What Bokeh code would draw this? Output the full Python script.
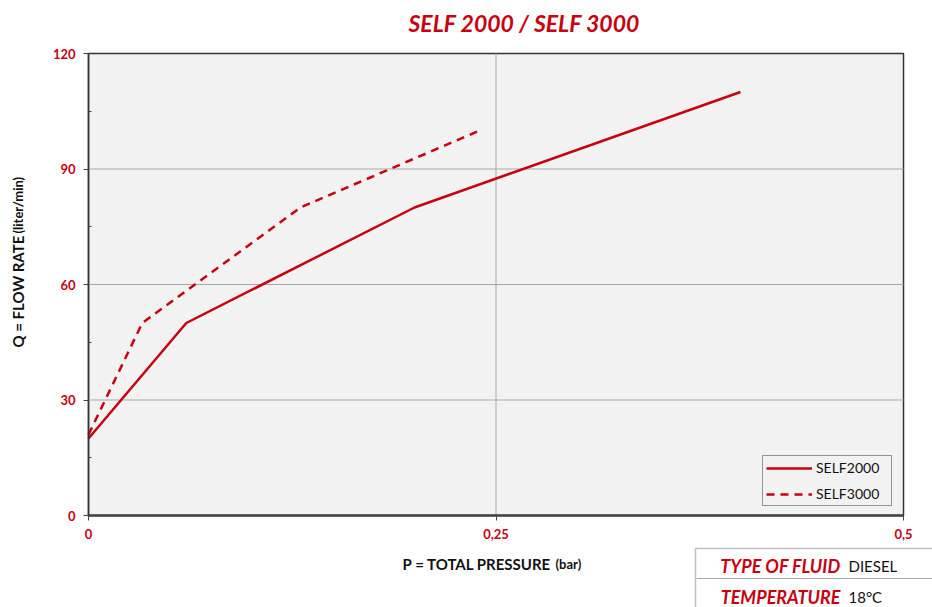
import math
from bokeh.plotting import figure
from bokeh.models import Range1d, FixedTicker, Label, BoxAnnotation, Legend, LegendItem
from bokeh.embed import file_html
from bokeh.resources import INLINE

# data
p_self2000 = [0.0, 0.06, 0.2, 0.4]
q_self2000 = [20, 50, 80, 110]
p_self3000 = [0.0, 0.033, 0.13, 0.24]
q_self3000 = [21, 50, 80, 100]
x_ticks = [0, 0.25, 0.5]
x_tick_labels = ["0", "0,25", "0,5"]
y_ticks = [0, 30, 60, 90, 120]
y_minor_ticks = [15, 45, 75, 105]
x_min, x_max = 0, 0.5
y_min, y_max = 0, 120

RED = "#c8000f"
FONT = "Lato"
W, H = 932, 607
# plot area in canvas pixels
L, R, T, B = 88, 903, 53, 515
PX = (x_max - x_min) / (R - L)
PY = (y_max - y_min) / (B - T)

p = figure(width=W, height=H, output_backend="svg", toolbar_location=None, title=None,
           x_range=Range1d(x_min - L * PX, x_max + (W - R) * PX),
           y_range=Range1d(y_min - (H - B) * PY, y_max + T * PY),
           min_border=0, min_border_left=0, min_border_right=0,
           min_border_top=0, min_border_bottom=0)
p.background_fill_color = "white"
p.border_fill_color = "white"
p.outline_line_color = None
p.grid.visible = False

# plot area background + top/right border
p.quad(left=[x_min], right=[x_max], bottom=[y_min], top=[y_max],
       fill_color="#f2f2f2", line_color="#333333", line_width=1.5)

# grid lines from tick values
y_grid = [t for t in y_ticks if y_min < t < y_max]
x_grid = [t for t in x_ticks if x_min < t < x_max]
p.segment(x0=[x_min] * len(y_grid), x1=[x_max] * len(y_grid), y0=y_grid, y1=y_grid,
          line_color="#a8a8a8", line_width=1)
p.segment(x0=x_grid, x1=x_grid, y0=[y_min] * len(x_grid), y1=[y_max] * len(x_grid),
          line_color="#a8a8a8", line_width=1)

# x axis
xa = p.xaxis[0]
xa.fixed_location = y_min
xa.bounds = (x_min, x_max)
xa.ticker = FixedTicker(ticks=x_ticks)
xa.major_label_overrides = {t: l for t, l in zip(x_ticks, x_tick_labels)}
xa.axis_line_color = "#444444"
xa.axis_line_width = 2.5
xa.major_tick_in = 0
xa.major_tick_out = 5
xa.major_tick_line_color = "#444444"
xa.minor_tick_line_color = None
xa.major_label_text_color = RED
xa.major_label_text_font = FONT
xa.major_label_text_font_style = "bold"
xa.major_label_text_font_size = "13px"
xa.major_label_standoff = 8

# y axis
ya = p.yaxis[0]
ya.fixed_location = x_min
ya.bounds = (y_min, y_max)
ya.ticker = FixedTicker(ticks=y_ticks, minor_ticks=y_minor_ticks)
ya.axis_line_color = "#333333"
ya.axis_line_width = 1.5
ya.major_tick_in = 0
ya.major_tick_out = 5
ya.minor_tick_in = 3
ya.minor_tick_out = 0
ya.major_tick_line_color = "#444444"
ya.minor_tick_line_color = "#444444"
ya.major_label_text_color = RED
ya.major_label_text_font = FONT
ya.major_label_text_font_style = "bold"
ya.major_label_text_font_size = "13px"
ya.major_label_standoff = 8

r1 = p.line(p_self2000, q_self2000, line_color=RED, line_width=2.5)
r2 = p.line(p_self3000, q_self3000, line_color=RED, line_width=2.5, line_dash="8 6")

legend = Legend(items=[LegendItem(label="SELF2000", renderers=[r1]),
                       LegendItem(label="SELF3000", renderers=[r2])],
                location=(762, 101))
legend.background_fill_color = "#f2f2f2"
legend.background_fill_alpha = 1
legend.border_line_color = "#333333"
legend.border_line_width = 1
legend.label_text_font = FONT
legend.label_text_font_size = "14px"
legend.label_text_color = "#111111"
legend.glyph_width = 46
legend.glyph_height = 16
legend.label_height = 16
legend.label_width = 72
legend.label_standoff = 4
legend.padding = 3
legend.spacing = 9
legend.margin = 0
p.add_layout(legend, "center")


def lab(x, y, text, **kw):
    # x, y in canvas pixels from the top-left corner
    p.add_layout(Label(x=x, y=H - y, x_units="screen", y_units="screen", text=text, **kw))


# title
lab(408, 22, "SELF 2000 / SELF 3000", text_color=RED, text_font=FONT,
    text_font_style="bold italic", text_font_size="23px", text_baseline="middle")

# axis titles
lab(551, 563, "P = TOTAL PRESSURE", text_color="#111111", text_font=FONT,
    text_font_style="bold", text_font_size="15px", text_align="right",
    text_baseline="alphabetic")
lab(555, 563, "(bar)", text_color="#111111", text_font=FONT,
    text_font_style="bold", text_font_size="13px", text_align="left",
    text_baseline="alphabetic")
lab(17, 347, "Q = FLOW RATE", text_color="#111111", text_font=FONT,
    text_font_style="bold", text_font_size="15px", text_align="left",
    text_baseline="alphabetic", angle=math.pi / 2)
lab(17, 233, "(liter/min)", text_color="#111111", text_font=FONT,
    text_font_style="bold", text_font_size="13px", text_align="left",
    text_baseline="alphabetic", angle=math.pi / 2)

# info table
p.add_layout(BoxAnnotation(left=695, right=W + 10, top=H - 548, bottom=-10,
                           left_units="screen", right_units="screen",
                           top_units="screen", bottom_units="screen",
                           fill_color="white", fill_alpha=1,
                           line_color="#333333", line_width=1.5))
p.add_layout(BoxAnnotation(left=696, right=W + 10, top=H - 577.5, bottom=H - 578.5,
                           left_units="screen", right_units="screen",
                           top_units="screen", bottom_units="screen",
                           fill_color="#a8a8a8", fill_alpha=1, line_color=None))
table_keys = ["TYPE OF FLUID", "TEMPERATURE"]
table_vals = ["DIESEL", "18°C"]
for (k, v), yy in zip(zip(table_keys, table_vals), [565, 596]):
    lab(840, yy, k, text_color=RED, text_font=FONT, text_font_style="bold italic",
        text_font_size="18px", text_align="right", text_baseline="middle")
    lab(848, yy, v, text_color="#111111", text_font=FONT, text_font_size="15px",
        text_align="left", text_baseline="middle")

open("out.html", "w").write(file_html(p, INLINE))
